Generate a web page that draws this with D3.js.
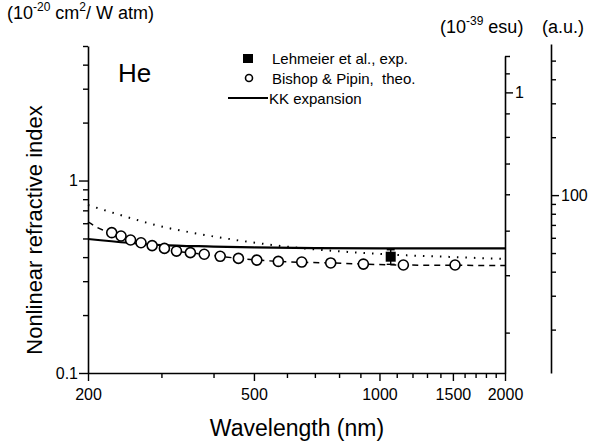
<!DOCTYPE html>
<html>
<head>
<meta charset="utf-8">
<script src="https://cdn.jsdelivr.net/npm/d3@7"></script>
<style>
  body { margin: 0; background: #fff; }
  svg { font-family: "Liberation Sans", Arial, sans-serif; }
</style>
</head>
<body>
<svg id="chart" width="592" height="444"></svg>
<script>
/* values */
var circleWl = [228, 240, 253, 268, 285, 305, 326, 352, 380, 415, 459, 508, 572, 651, 764, 915, 1141, 1518];
var circleN2 = [0.536, 0.515, 0.491, 0.475, 0.459, 0.444, 0.430, 0.422, 0.414, 0.404, 0.394, 0.386, 0.380, 0.377, 0.373, 0.368, 0.364, 0.364];

var expWl = [1064];
var expN2 = [0.402];
var expErr = [0.035];

var kkWl = [200, 250, 300, 400, 500, 700, 1000, 1500, 2000];
var kkN2 = [0.497, 0.475, 0.462, 0.454, 0.449, 0.445, 0.444, 0.444, 0.444];

var dotWl = [200, 239, 297, 371, 489, 645, 850, 1120, 1476, 2000];
var dotN2 = [0.746, 0.662, 0.580, 0.527, 0.479, 0.446, 0.425, 0.410, 0.401, 0.391];

var dashWl = [200, 217, 228, 253, 285, 326, 380, 459, 572, 764, 1141, 2000];
var dashN2 = [0.609, 0.553, 0.536, 0.491, 0.459, 0.430, 0.414, 0.394, 0.380, 0.373, 0.364, 0.362];

var xTicks = d3.range(200, 2001, 100);
var xLabels = [200, 500, 1000, 1500, 2000];
var yTicks = [0.1, 0.2, 0.3, 0.4, 0.5, 0.6, 0.7, 0.8, 0.9, 1, 2, 3, 4, 5];
var yLabels = [0.1, 1];
var esuTicks = [0.3, 0.4, 0.5, 0.6, 0.7, 0.8, 0.9, 1, 1.1, 1.2];
var esuLabels = [1];
var auTicks = [20, 30, 40, 50, 60, 70, 80, 90, 100, 200, 300, 400, 500];
var auLabels = [100];

var legendNames = ["Lehmeier et al., exp.", "Bishop & Pipin,  theo.", "KK expansion"];

var plotLeft = 88, plotRight = 505, plotTop = 46, plotBottom = 373;
var esuTop = 56, auTop = 44;
var auX = 551;

var svg = d3.select("#chart");

var xAxis = d3.scaleLog().domain([200, 2000]).range([plotLeft, plotRight]);
var yAxis = d3.scaleLog().domain([0.1, 5]).range([plotBottom, plotTop]);
var yEsu = d3.scaleLog().domain([0.245, 1.2]).range([plotBottom, esuTop]);
var yAu = d3.scaleLog().domain([11.9, 610]).range([plotBottom, auTop]);

var line = d3.line()
    .x(d => xAxis(d[0]))
    .y(d => yAxis(d[1]))
    .curve(d3.curveMonotoneX);

/* helper: axis with long labelled ticks and short minor ones */
function drawAxis(g, axis, labels) {
    g.call(axis.tickSizeOuter(0).tickFormat(d => labels.indexOf(d) >= 0 ? d3.format("")(d) : ""));
    g.select(".domain").attr("stroke-width", 1.6);
    g.selectAll(".tick line").attr("stroke-width", 1.4);
    g.selectAll(".tick text")
        .attr("font-size", 16)
        .attr("font-family", "Liberation Sans, Arial, sans-serif");
    return g;
}

/* bottom axis */
var gx = svg.append("g").attr("transform", "translate(0," + plotBottom + ")");
drawAxis(gx, d3.axisBottom(xAxis).tickValues(xTicks).tickSize(5).tickPadding(11), xLabels);
gx.selectAll(".tick line").filter(d => xLabels.indexOf(d) >= 0).attr("y2", 8);

/* left axis */
var gy = svg.append("g").attr("transform", "translate(" + plotLeft + ",0)");
drawAxis(gy, d3.axisLeft(yAxis).tickValues(yTicks).tickSize(5).tickPadding(5), yLabels);
gy.selectAll(".tick line").filter(d => yLabels.indexOf(d) >= 0).attr("x2", -9);

/* esu axis on the right edge */
var ge = svg.append("g").attr("transform", "translate(" + plotRight + ",0)");
drawAxis(ge, d3.axisRight(yEsu).tickValues(esuTicks).tickSize(5).tickPadding(5), esuLabels);
ge.selectAll(".tick line").filter(d => esuLabels.indexOf(d) >= 0).attr("x2", 8);

/* a.u. axis */
var ga = svg.append("g").attr("transform", "translate(" + auX + ",0)");
drawAxis(ga, d3.axisRight(yAu).tickValues(auTicks).tickSize(5).tickPadding(5), auLabels);
ga.selectAll(".tick line").filter(d => auLabels.indexOf(d) >= 0).attr("x2", 8);

/* curves */
svg.append("path")
    .datum(d3.zip(dotWl, dotN2))
    .attr("d", line)
    .attr("fill", "none")
    .attr("stroke", "#000")
    .attr("stroke-width", 2)
    .attr("stroke-dasharray", "1.5,7");

svg.append("path")
    .datum(d3.zip(dashWl, dashN2))
    .attr("d", line)
    .attr("fill", "none")
    .attr("stroke", "#000")
    .attr("stroke-width", 1.5)
    .attr("stroke-dasharray", "6,5");

svg.append("path")
    .datum(d3.zip(kkWl, kkN2))
    .attr("d", line)
    .attr("fill", "none")
    .attr("stroke", "#000")
    .attr("stroke-width", 2.2);

/* Bishop & Pipin points */
svg.selectAll("circle.bp")
    .data(d3.zip(circleWl, circleN2))
    .enter()
    .append("circle")
    .attr("class", "bp")
    .attr("cx", d => xAxis(d[0]))
    .attr("cy", d => yAxis(d[1]))
    .attr("r", 5)
    .attr("fill", "#fff")
    .attr("stroke", "#000")
    .attr("stroke-width", 1.6);

/* Lehmeier point with error bar */
var exp = d3.zip(expWl, expN2, expErr);
svg.selectAll("line.err")
    .data(exp)
    .enter()
    .append("line")
    .attr("class", "err")
    .attr("x1", d => xAxis(d[0]))
    .attr("x2", d => xAxis(d[0]))
    .attr("y1", d => yAxis(d[1] + d[2]))
    .attr("y2", d => yAxis(d[1] - d[2]))
    .attr("stroke", "#000")
    .attr("stroke-width", 1.4);
svg.selectAll("line.cap")
    .data(exp.flatMap(d => [d[1] + d[2], d[1] - d[2]].map(v => [d[0], v])))
    .enter()
    .append("line")
    .attr("class", "cap")
    .attr("x1", d => xAxis(d[0]) - 4)
    .attr("x2", d => xAxis(d[0]) + 4)
    .attr("y1", d => yAxis(d[1]))
    .attr("y2", d => yAxis(d[1]))
    .attr("stroke", "#000")
    .attr("stroke-width", 1.4);
svg.selectAll("rect.exp")
    .data(exp)
    .enter()
    .append("rect")
    .attr("class", "exp")
    .attr("x", d => xAxis(d[0]) - 5)
    .attr("y", d => yAxis(d[1]) - 5)
    .attr("width", 10)
    .attr("height", 10)
    .attr("fill", "#000");

/* He label */
svg.append("text")
    .attr("x", 118)
    .attr("y", 82)
    .attr("font-size", 26)
    .text("He");

/*** legend ***/
var legend = svg.append("g").attr("transform", "translate(248, 0)");
legend.append("rect")
    .attr("x", -5).attr("y", 54)
    .attr("width", 10).attr("height", 9)
    .attr("fill", "#000");
legend.append("circle")
    .attr("cx", 1).attr("cy", 78)
    .attr("r", 3.5)
    .attr("fill", "#fff")
    .attr("stroke", "#000")
    .attr("stroke-width", 1.6);
legend.append("line")
    .attr("x1", -20).attr("x2", 20)
    .attr("y1", 98).attr("y2", 98)
    .attr("stroke", "#000")
    .attr("stroke-width", 2.2);
legend.selectAll("text")
    .data(legendNames)
    .enter()
    .append("text")
    .attr("x", (d, i) => i == 2 ? 21 : 24)
    .attr("y", (d, i) => 63.5 + i * 20)
    .attr("font-size", 15)
    .attr("xml:space", "preserve")
    .text(d => d);

/* axis titles */
svg.append("text")
    .attr("x", 297)
    .attr("y", 436)
    .attr("text-anchor", "middle")
    .attr("font-size", 23)
    .text("Wavelength (nm)");

svg.append("text")
    .attr("transform", "translate(42," + 230 + ") rotate(-90)")
    .attr("text-anchor", "middle")
    .attr("font-size", 22)
    .text("Nonlinear refractive index");

/* unit labels */
var u1 = svg.append("text").attr("x", 7).attr("y", 19).attr("font-size", 18);
u1.append("tspan").text("(10");
u1.append("tspan").attr("dy", -8).attr("font-size", 12).text("-20");
u1.append("tspan").attr("dy", 8).text(" cm");
u1.append("tspan").attr("dy", -8).attr("font-size", 12).text("2");
u1.append("tspan").attr("dy", 8).text("/ W atm)");

var u2 = svg.append("text").attr("x", 440).attr("y", 33).attr("font-size", 18);
u2.append("tspan").text("(10");
u2.append("tspan").attr("dy", -8).attr("font-size", 12).text("-39");
u2.append("tspan").attr("dy", 8).text(" esu)");

svg.append("text")
    .attr("x", 542)
    .attr("y", 33)
    .attr("font-size", 18)
    .text("(a.u.)");
</script>
</body>
</html>
